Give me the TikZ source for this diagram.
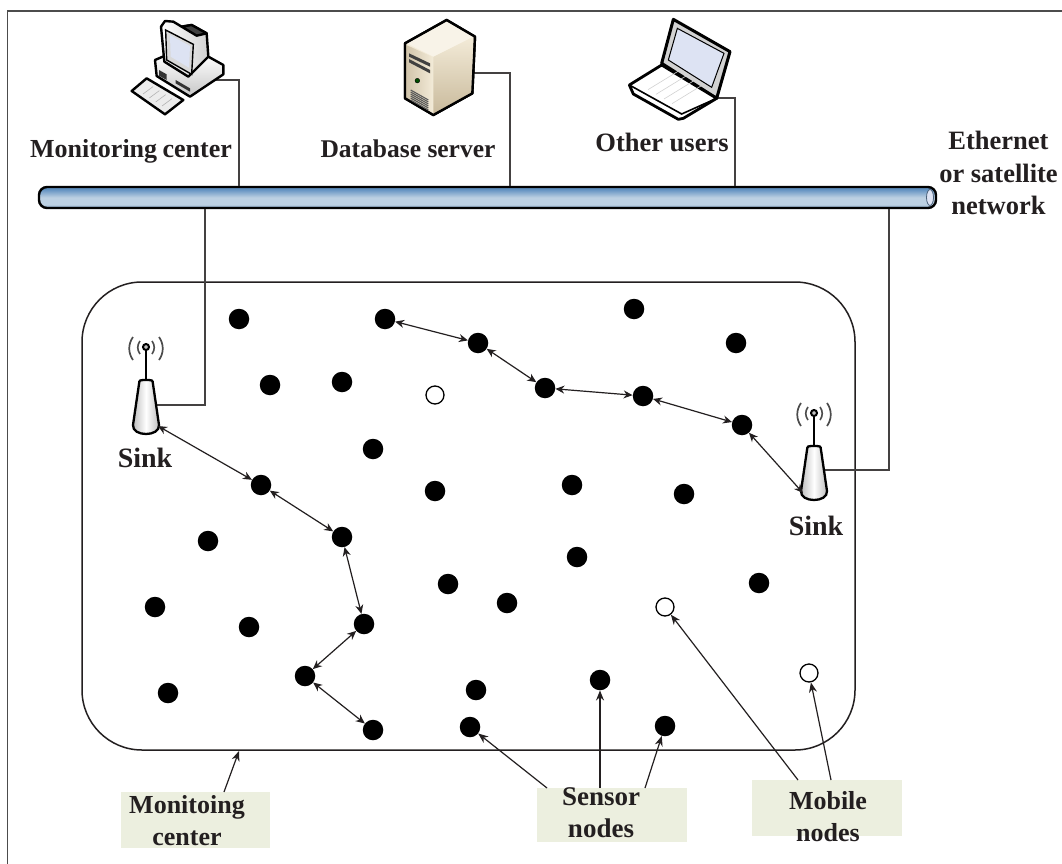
\documentclass[tikz,border=0pt]{standalone}
\usepackage{fontspec}
\setmainfont{Liberation Serif}
\usetikzlibrary{arrows.meta,calc}
\definecolor{ink}{HTML}{231F20}
\definecolor{boxgreen}{HTML}{ECEFDF}
\definecolor{busA}{HTML}{6090C0}
\definecolor{busB}{HTML}{BCD0E2}
\definecolor{busC}{HTML}{6A8BAE}
\definecolor{tan1}{HTML}{F3EBD8}
\definecolor{tan2}{HTML}{C9BA9C}
\definecolor{screen}{HTML}{DDE3F3}
\pgfdeclareverticalshading{busgrad}{100bp}{color(0bp)=(busC); color(25bp)=(busC); color(33bp)=(busB); color(50bp)=(busB); color(70bp)=(busA); color(75bp)=(busA); color(100bp)=(busA)}
\tikzset{
  x=1pt,y=-1pt,
  sensor/.style={circle,fill=black,inner sep=0pt,minimum size=20.5pt},
  mobile/.style={circle,draw=black,fill=white,line width=1.3pt,inner sep=0pt,minimum size=18pt},
  link/.style={draw=ink,line width=1.2pt,{Stealth[length=9pt,width=8pt]}-{Stealth[length=9pt,width=8pt]}},
  pointer/.style={draw=ink,line width=1.2pt,-{Stealth[length=10pt,width=8pt]}},
  wire/.style={draw=ink!85,line width=1.5pt},
  lab/.style={font=\fontsize{26}{32}\selectfont\bfseries,text=ink,inner sep=0pt,align=center},
  notebox/.style={fill=boxgreen,inner sep=0pt},
  icon/.style={draw=black,line width=2.4pt,line join=round},
  sinkicon/.pic={
    \draw[gray!60!black,line width=1.6pt] (-6,-6) .. controls (-9,-2) and (-9,3) .. (-6,7);
    \draw[gray!60!black,line width=1.6pt] (6,-6) .. controls (9,-2) and (9,3) .. (6,7);
    \draw[gray!60!black,line width=1.7pt] (-13,-10) .. controls (-18,-3) and (-18,6) .. (-13,13);
    \draw[gray!60!black,line width=1.7pt] (13,-10) .. controls (18,-3) and (18,6) .. (13,13);
    \draw[black,line width=2.5pt] (0,2) -- (0,33);
    \draw[black,line width=2pt,fill=gray!50] (0,0) circle (3);
    \path[draw=black,line width=2.3pt,left color=gray!55,right color=gray!55,middle color=white]
      (-7,37) .. controls (-7,33) and (-5,33) .. (-3,33) -- (3,33) .. controls (5,33) and (7,33) .. (7,37)
      -- (13,78) .. controls (14,90) and (-14,90) .. (-13,78) -- cycle;
  }
}
\begin{document}
\begin{tikzpicture}
\useasboundingbox (0,0) rectangle (1062,864);
\fill[white] (0,0) rectangle (1062,864);
% frame (only top and left are shown)
\draw[gray!60!black,line width=1.4pt] (1062,11) -- (7.5,11) -- (7.5,864);

% ports and junctions
\coordinate (pcport) at (215,80);
\coordinate (dbport) at (468,73);
\coordinate (lapport) at (712,98);
\coordinate (sinkAport) at (150,405);
\coordinate (sinkBport) at (818,470);
\coordinate (sinkAlink) at (158,426);
\coordinate (sinkBlink) at (803,493);

% monitoring field
\node[draw=ink,line width=1.5pt,rounded corners=60pt,minimum width=773pt,minimum height=468pt,inner sep=0pt] (field) at (468.5,516) {};

% bus
\node[draw=black,line width=2.4pt,rounded corners=8pt,minimum width=897pt,minimum height=21pt,inner sep=0pt,shading=busgrad] (bus) at (487.5,197.5) {};
\path[draw=busC!70!black,fill=screen,line width=.8pt] (930,197.5) ellipse (3.5 and 8);
\coordinate (busA1) at (239,186);
\coordinate (busA2) at (510,186);
\coordinate (busA3) at (735,186);
\coordinate (busB1) at (205,209);
\coordinate (busB2) at (889,209);

% wires
\draw[wire] (pcport) -| (busA1);
\draw[wire] (dbport) -| (busA2);
\draw[wire] (lapport) -| (busA3);
\draw[wire] (sinkAport) -| (busB1);
\draw[wire] (sinkBport) -| (busB2);

% computer
\begin{scope}[shift={(125,15)},scale=1/3]
  \path[icon,top color=white,bottom color=gray!45] (90,135) -- (125,120) -- (250,125) -- (295,150) -- (295,178) -- (195,245) -- (95,183) -- cycle;
  \path[icon,fill=gray!15] (20,228) -- (65,190) -- (175,255) -- (120,298) -- cycle;
  \foreach \t in {.2,.4,.6,.8} \draw[gray!60,line width=.6pt] ($(35,225)!\t!(130,285)$) -- ++(30,-22);
  \path[icon,left color=white,right color=gray!35] (108,35) -- (120,18) -- (145,20) -- (170,35) -- (200,30) -- (245,55) -- (250,125) -- (190,185) -- (118,140) -- cycle;
  \path[icon,fill=black!75] (170,35) -- (200,30) -- (245,55) -- (215,62) -- cycle;
  \path[draw=black,line width=1.4pt,fill=gray!30] (122,45) -- (205,88) -- (200,178) -- (125,135) -- cycle;
  \path[fill=screen] (135,60) -- (195,93) -- (192,158) -- (137,125) -- cycle;
  \fill[black!80] (102,165) -- (125,178) -- (125,195) -- (102,182) -- cycle;
  \fill[black!80] (152,195) -- (195,220) -- (195,230) -- (152,205) -- cycle;
\end{scope}

% server
\begin{scope}[shift={(395,15)},scale=1/3]
  \path[icon,fill=tan1] (30,85) -- (155,15) -- (240,65) -- (232,235) -- (115,300) -- (30,250) -- cycle;
  \path[top color=tan1,bottom color=tan2] (115,125) -- (236,65) -- (230,235) -- (115,297) -- cycle;
  \path[left color=tan2!85,right color=tan1] (34,90) -- (115,127) -- (115,297) -- (34,248) -- cycle;
  \path[fill=tan1!60!white] (36,85) -- (155,19) -- (235,65) -- (115,125) -- cycle;
  \path[icon] (30,85) -- (155,15) -- (240,65) -- (232,235) -- (115,300) -- (30,250) -- cycle;
  \fill[black!75] (42,115) -- (105,145) -- (105,155) -- (42,125) -- cycle;
  \fill[black!75] (42,132) -- (105,165) -- (105,175) -- (42,142) -- cycle;
  \path[fill=black!70!green,draw=black] (67,197) circle (7);
  \foreach \i in {0,6,...,30} \draw[black!65,line width=1.1pt] (47,225+\i) -- (100,255+\i);
\end{scope}

% laptop
\begin{scope}[shift={(620,10)},scale=1/3]
  \path[draw=black,line width=3pt,line join=round,fill=gray!35] (160,28) -- (330,125) -- (290,265) -- (125,160) -- cycle;
  \path[draw=black,line width=1pt,fill=screen] (172,55) -- (312,130) -- (275,232) -- (145,150) -- cycle;
  \path[draw=black,line width=2.8pt,line join=round,fill=white] (28,225) -- (125,165) -- (290,265) -- (190,325) -- (175,328) -- (40,252) -- cycle;
  \draw[black,line width=1.6pt] (28,225) -- (185,312) -- (290,265);
  \foreach \t in {.2,.4,.6,.8} \draw[gray!35,line width=.6pt] ($(60,225)!\t!(180,295)$) -- ++(90,-55);
\end{scope}

% sinks
\pic at (146,347) {sinkicon};
\pic at (814,413) {sinkicon};
\node[lab,font=\fontsize{28}{30}\selectfont\bfseries] (sinkAlab) at (145,458) {Sink};
\node[lab,font=\fontsize{28}{30}\selectfont\bfseries] (sinkBlab) at (816,526) {Sink};

% sensor nodes
\foreach \n/\x/\y in {a/239/319,b/385/319,c/478/343,d/545/388,e/643/396,f/742/425,g/634/309,h/736/343,
  i/270/385,j/342/382,k/373/449,l/435/491,m/572/485,n/684/494,o/261/485,p/342/537,q/208/541,
  r/448/584,s/507/603,t/577/557,u/759/583,v/155/607,w/249/627,xa/364/624,xb/305/676,xc/168/693,
  xd/476/690,xe/600/680,xf/373/730,xg/470/727,xh/665/726}
  \node[sensor] (\n) at (\x,\y) {};
\node[mobile] (ma) at (435,395) {};
\node[mobile] (mb) at (665,607) {};
\node[mobile] (mc) at (809,673) {};

% multihop links
\draw[link] (b) -- (c);
\draw[link] (c) -- (d);
\draw[link] (d) -- (e);
\draw[link] (e) -- (f);
\draw[link] (f) -- (sinkBlink);
\draw[link] (sinkAlink) -- (o);
\draw[link] (o) -- (p);
\draw[link] (p) -- (xa);
\draw[link] (xa) -- (xb);
\draw[link] (xb) -- (xf);

% titles
\node[lab] (t1) at (131,151) {Monitoring\hspace{-.04em} center};
\node[lab,font=\fontsize{25.5}{32}\selectfont\bfseries] (t2) at (408,149) {Database server};
\node[lab,font=\fontsize{26.5}{32}\selectfont\bfseries] (t3) at (662,142) {Other users};
\node[lab,font=\fontsize{26.5}{32.5}\selectfont\bfseries] (t4) at (998.5,173) {Ethernet\\or satellite\\network};

% note boxes
\node[notebox,minimum width=149pt,minimum height=56pt] (box1) at (195.5,820) {};
\node[notebox,minimum width=150pt,minimum height=54pt] (box2) at (612,815) {};
\node[notebox,minimum width=150pt,minimum height=56pt] (box3) at (827,808) {};
\node[lab] (n1) at (187,821) {Monitoing\\center};
\node[lab,font=\fontsize{27}{32}\selectfont\bfseries] (n2) at (601,813) {Sensor\\nodes};
\node[lab] (n3) at (828,817) {Mobile\\nodes};

\coordinate (f1) at (224,792);
\coordinate (f2) at (239,751);
\coordinate (s1) at (547,788);
\coordinate (s2) at (600,788);
\coordinate (s3) at (645,788);
\coordinate (m1) at (798,780);
\coordinate (m2) at (831,780);
\draw[pointer] (f1) -- (f2);
\draw[pointer] (s1) -- (xg);
\draw[pointer] (s2) -- (xe);
\draw[pointer] (s3) -- (xh);
\draw[pointer] (m1) -- (mb);
\draw[pointer] (m2) -- (mc);
\end{tikzpicture}
\end{document}
